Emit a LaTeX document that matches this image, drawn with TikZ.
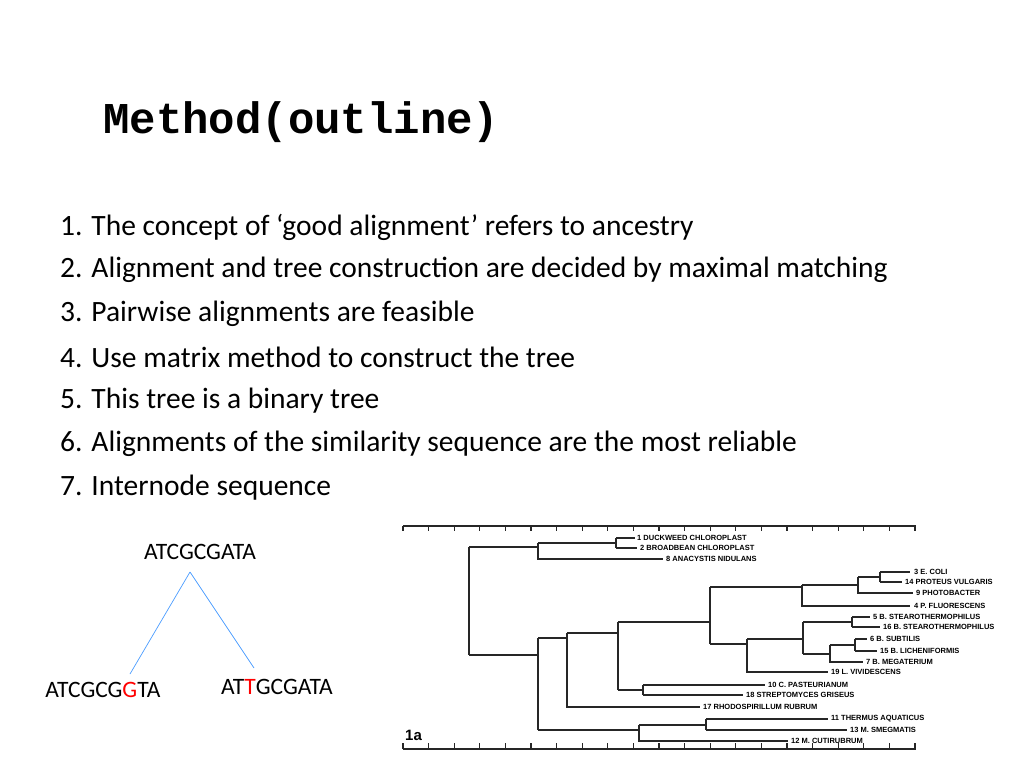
\documentclass[tikz,border=0pt]{standalone}
\usepackage{fontspec}
\setmainfont{Carlito}
\newfontfamily\titlefont{Liberation Mono}
\newfontfamily\treefont{Liberation Sans}
\begin{document}
\begin{tikzpicture}[x=1pt,y=-1pt,
  item/.style={anchor=west,inner sep=0pt,font=\fontsize{29.5}{32}\selectfont},
  seq/.style={inner sep=0pt,font=\fontsize{23.5}{26}\selectfont},
  leaf/.style={anchor=west,inner sep=0pt,font=\treefont\bfseries\fontsize{7.5}{8}\selectfont},
  br/.style={line width=1.1pt,black!85}]
  \useasboundingbox (0,0) rectangle (1024,768);
  \node[anchor=west,inner sep=0pt,font=\titlefont\bfseries\fontsize{44}{46}\selectfont] (title) at (103,122) {Method(outline)};
  \node[item] (i1) at (60,227) {1. The concept of ‘good alignment’ refers to ancestry};
  \node[item] (i2) at (60,270) {2. Alignment and tree construction are decided by maximal matching};
  \node[item] (i3) at (60,314) {3. Pairwise alignments are feasible};
  \node[item] (i4) at (60,357) {4. Use matrix method to construct the tree};
  \node[item] (i5) at (60,401) {5. This tree is a binary tree};
  \node[item] (i6) at (60,444) {6. Alignments of the similarity sequence are the most reliable};
  \node[item] (i7) at (60,488) {7. Internode sequence};
  % small sequence tree
  \node[seq] (anc) at (200,552) {ATCGCGATA};
  \node[seq] (left) at (103,690) {ATCGCG\textcolor{red}{G}TA};
  \node[seq] (right) at (277,687) {AT\textcolor{red}{T}GCGATA};
  \coordinate (top) at (190,572);
  \draw[blue!55!cyan!70,line width=0.7pt] (top) -- (130,674);
  \draw[blue!55!cyan!70,line width=0.7pt] (top) -- (254,668);
  % scale bars
  \draw[br] (403,526) -- (916,526);
  \draw[br] (403,749) -- (916,749);
  \foreach \k in {0,...,20} {
    \draw[br] ({403+25.6*\k},526) -- ++(0,5);
    \draw[br] ({403+25.6*\k},749) -- ++(0,-6);
  }
  \node[anchor=south west,inner sep=0pt,font=\treefont\bfseries\fontsize{15}{16}\selectfont] (fig) at (405,741) {1a};
  % dendrogram
  \draw[br] (469,547) -- (469,655);
  \draw[br] (469,547) -- (538,547) (469,655) -- (538,655);
  \draw[br] (538,543) -- (538,559) -- (663,559);
  \draw[br] (538,543) -- (616,543) (616,538) -- (616,548);
  \draw[br] (616,538) -- (635,538) (616,548) -- (637,548);
  \draw[br] (538,638) -- (538,730);
  \draw[br] (538,638) -- (567,638) (567,633) -- (567,707) -- (700,707);
  \draw[br] (567,633) -- (618,633) (618,622) -- (618,690);
  \draw[br] (618,622) -- (710,622) (710,587) -- (710,644);
  \draw[br] (710,587) -- (802,587) (802,585) -- (802,606) -- (910,606);
  \draw[br] (802,585) -- (858,585) (858,577) -- (858,593) -- (913,593);
  \draw[br] (858,577) -- (880,577) (880,572) -- (880,582);
  \draw[br] (880,572) -- (910,572) (880,582) -- (902,582);
  \draw[br] (710,644) -- (747,644) (747,639) -- (747,672) -- (828,672);
  \draw[br] (747,639) -- (803,639) (803,622) -- (803,654);
  \draw[br] (803,622) -- (852,622) (852,617) -- (852,627);
  \draw[br] (852,617) -- (870,617) (852,627) -- (880,627);
  \draw[br] (803,654) -- (830,654) (830,645) -- (830,662) -- (863,662);
  \draw[br] (830,645) -- (855,645) (855,639) -- (855,651);
  \draw[br] (855,639) -- (867,639) (855,651) -- (877,651);
  \draw[br] (618,690) -- (643,690) (643,685) -- (643,695);
  \draw[br] (643,685) -- (765,685) (643,695) -- (743,695);
  \draw[br] (538,730) -- (639,730) (639,725) -- (639,741) -- (788,741);
  \draw[br] (639,725) -- (706,725) (706,719) -- (706,730);
  \draw[br] (706,719) -- (828,719) (706,730) -- (847,730);
  % leaf labels
  \node[leaf] (l1) at (637,538) {1 DUCKWEED CHLOROPLAST};
  \node[leaf] (l2) at (640,548) {2 BROADBEAN CHLOROPLAST};
  \node[leaf] (l8) at (666,559) {8 ANACYSTIS NIDULANS};
  \node[leaf] (l3) at (914,572) {3 E. COLI};
  \node[leaf] (l14) at (905,582) {14 PROTEUS VULGARIS};
  \node[leaf] (l9) at (916,593) {9 PHOTOBACTER};
  \node[leaf] (l4) at (914,606) {4 P. FLUORESCENS};
  \node[leaf] (l5) at (873,617) {5 B. STEAROTHERMOPHILUS};
  \node[leaf] (l16) at (883,627) {16 B. STEAROTHERMOPHILUS};
  \node[leaf] (l6) at (870,639) {6 B. SUBTILIS};
  \node[leaf] (l15) at (880,651) {15 B. LICHENIFORMIS};
  \node[leaf] (l7) at (866,662) {7 B. MEGATERIUM};
  \node[leaf] (l19) at (831,672) {19 L. VIVIDESCENS};
  \node[leaf] (l10) at (768,685) {10 C. PASTEURIANUM};
  \node[leaf] (l18) at (746,695) {18 STREPTOMYCES GRISEUS};
  \node[leaf] (l17) at (703,707) {17 RHODOSPIRILLUM RUBRUM};
  \node[leaf] (l11) at (831,719) {11 THERMUS AQUATICUS};
  \node[leaf] (l13) at (850,730) {13 M. SMEGMATIS};
  \node[leaf] (l12) at (791,741) {12 M. CUTIRUBRUM};
\end{tikzpicture}
\end{document}
